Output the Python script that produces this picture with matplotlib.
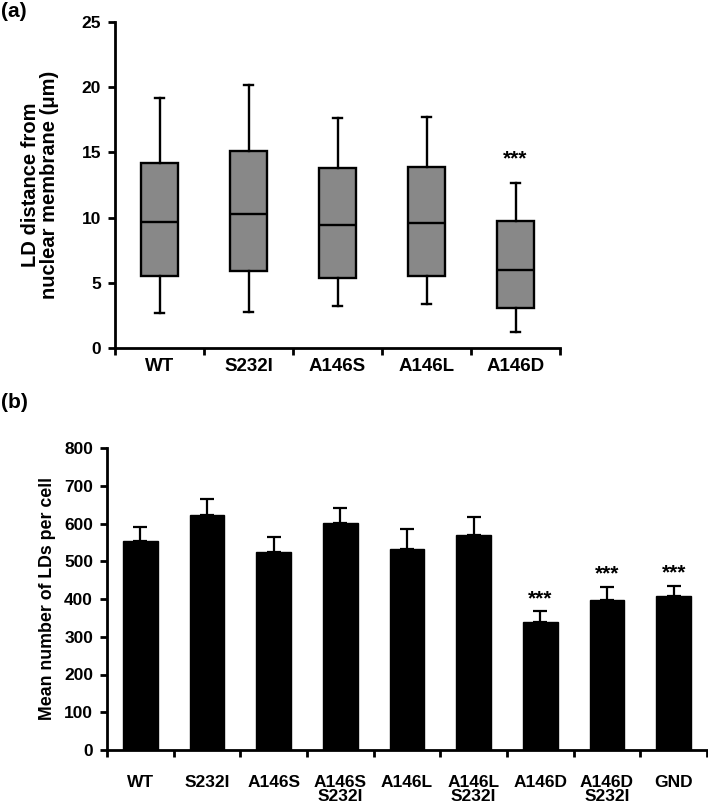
import matplotlib
matplotlib.use("Agg")
import matplotlib.pyplot as plt
import numpy as np

plt.rcParams['font.family'] = ['Liberation Sans', 'DejaVu Sans']
plt.rcParams['font.weight'] = 'bold'

# Panel (a) box plot data
cats_a = ["WT", "S232I", "A146S", "A146L", "A146D"]
whislo_a = [2.7, 2.75, 3.2, 3.4, 1.25]
q1_a = [5.5, 5.9, 5.4, 5.5, 3.05]
med_a = [9.7, 10.3, 9.4, 9.6, 5.95]
q3_a = [14.2, 15.1, 13.8, 13.9, 9.75]
whishi_a = [19.2, 20.2, 17.6, 17.7, 12.65]
sig_a = ["", "", "", "", "***"]

# Panel (b) bar data
cats_b = ["WT", "S232I", "A146S", "A146S\nS232I", "A146L", "A146L\nS232I",
          "A146D", "A146D\nS232I", "GND"]
means_b = [553, 623, 525, 601, 532, 569, 338, 398, 409]
err_b = [38, 43, 39, 40, 54, 49, 30, 35, 26]
sig_b = ["", "", "", "", "", "", "***", "***", "***"]

W, H = 708, 811
fig = plt.figure(figsize=(W / 100, H / 100), dpi=100)

def px_axes(l, r, t, b):
    return fig.add_axes([l / W, 1 - b / H, (r - l) / W, (b - t) / H])

# ---------- (a) ----------
axa = px_axes(115, 560, 22, 348)
stats = []
for i in range(len(cats_a)):
    stats.append(dict(whislo=whislo_a[i], q1=q1_a[i], med=med_a[i],
                      q3=q3_a[i], whishi=whishi_a[i], fliers=[]))
pos = np.arange(1, len(cats_a) + 1)
axa.bxp(stats, positions=pos, widths=0.41, patch_artist=True, showfliers=False,
        boxprops=dict(facecolor="#888888", edgecolor="black", linewidth=1.7),
        medianprops=dict(color="black", linewidth=1.7),
        whiskerprops=dict(color="black", linewidth=1.7),
        capprops=dict(color="black", linewidth=1.7),
        capwidths=0.1)
axa.set_xlim(0.5, len(cats_a) + 0.5)
axa.set_ylim(0, 25)
axa.set_yticks([0, 5, 10, 15, 20, 25])
axa.set_xticks(np.arange(0.5, len(cats_a) + 1, 1.0))
axa.set_xticklabels([])
for i, c in enumerate(cats_a):
    axa.text(pos[i], -0.75, c, ha="center", va="top", fontsize=13.5, fontweight="bold")
    if sig_a[i]:
        axa.text(pos[i], whishi_a[i] + 1.1, sig_a[i], ha="center", va="bottom",
                 fontsize=15, fontweight="bold")
axa.set_ylabel("LD distance from\nnuclear membrane (μm)", fontsize=14.5,
               fontweight="bold", labelpad=16, linespacing=1.05)
for s in ["top", "right"]:
    axa.spines[s].set_visible(False)
for s in ["left", "bottom"]:
    axa.spines[s].set_linewidth(2)
axa.tick_params(axis="both", direction="out", width=2, length=5, labelsize=12.5)
axa.tick_params(axis="y", pad=5)
for lab in axa.get_yticklabels():
    lab.set_fontweight("bold")
axa.patch.set_visible(False)

# ---------- (b) ----------
axb = px_axes(107, 707, 448, 750)
xb = np.arange(len(cats_b))
axb.bar(xb, means_b, width=0.52, color="black", edgecolor="black", zorder=3)
axb.errorbar(xb, means_b, yerr=[np.zeros(len(err_b)), err_b], fmt="none",
             ecolor="black", elinewidth=1.6, capsize=5, capthick=1.6, zorder=2)
axb.set_xlim(-0.5, len(cats_b) - 0.5)
axb.set_ylim(0, 800)
axb.set_yticks(np.arange(0, 801, 100))
axb.set_xticks(np.arange(-0.5, len(cats_b), 1.0))
axb.set_xticklabels([])
for i, c in enumerate(cats_b):
    axb.text(xb[i], -65, c, ha="center", va="top", fontsize=12.5, fontweight="bold",
             linespacing=0.95)
    if sig_b[i]:
        axb.text(xb[i], means_b[i] + err_b[i] + 8, sig_b[i], ha="center",
                 va="bottom", fontsize=15, fontweight="bold")
axb.set_ylabel("Mean number of LDs per cell", fontsize=12.8, fontweight="bold",
               labelpad=6)
for s in ["top", "right"]:
    axb.spines[s].set_visible(False)
for s in ["left", "bottom"]:
    axb.spines[s].set_linewidth(2)
axb.tick_params(axis="both", direction="out", width=2, length=5, labelsize=12.5)
axb.tick_params(axis="y", pad=5)
for lab in axb.get_yticklabels():
    lab.set_fontweight("bold")
axb.patch.set_visible(False)

fig.text(1 / W, 1 - 2 / H, "(a)", fontsize=15, fontweight="bold", va="top", ha="left")
fig.text(1 / W, 1 - 393 / H, "(b)", fontsize=15, fontweight="bold", va="top", ha="left")

fig.savefig("out.png", dpi=100)
